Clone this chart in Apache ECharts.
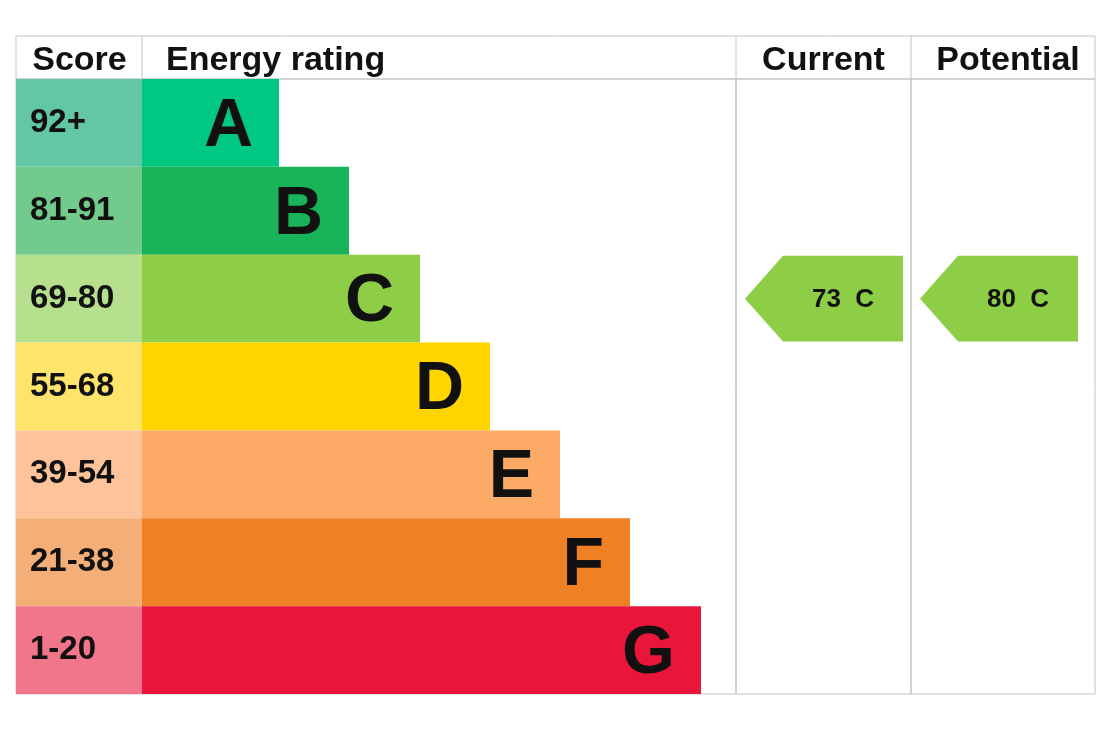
<!DOCTYPE html>
<html>
<head>
<meta charset="utf-8">
<script src="https://cdn.jsdelivr.net/npm/echarts@6/dist/echarts.min.js"></script>
<style>
html,body{margin:0;padding:0;background:#fff;}
#chart{width:1110px;height:751px;}
</style>
</head>
<body>
<div id="chart"></div>
<script>
// ---- data ----
const ratings = ['A', 'B', 'C', 'D', 'E', 'F', 'G'];
const scoreBands = ['92+', '81-91', '69-80', '55-68', '39-54', '21-38', '1-20'];
const barLengths = [137, 207, 278, 348, 418, 488, 559];
const ratingColors = ['#00c781', '#19b459', '#8dce46', '#ffd500', '#fcaa65', '#ef8023', '#e9153b'];
const bandColors = ['#64c7a3', '#72cb8c', '#b6e08d', '#fee46a', '#fdc49c', '#f4ae78', '#f2768b'];
const currentScore = 73;
const currentRating = 'C';
const potentialScore = 80;
const potentialRating = 'C';
const headers = ['Score', 'Energy rating', 'Current', 'Potential'];

const FONT = "'Liberation Sans', Arial, Helvetica, sans-serif";
const BORDER = '#c4c4c4';

const chart = echarts.init(document.getElementById('chart'), null, {renderer: 'canvas'});

const grids = [
  {left: 16, width: 126, top: 79, height: 615},
  {left: 142, width: 594, top: 79, height: 615},
  {left: 736, width: 175, top: 79, height: 615},
  {left: 911, width: 184, top: 79, height: 615}
].map(g => Object.assign(g, {show: true, borderColor: BORDER, borderWidth: 1, backgroundColor: 'transparent'}));

const xMax = [1, 594, 1, 1];
const xAxes = xMax.map((m, i) => ({type: 'value', gridIndex: i, min: 0, max: m, show: false}));
const yAxes = [0, 1, 2, 3].map(i => ({type: 'category', gridIndex: i, data: ratings, inverse: true, show: false}));

function arrowRender(params, api) {
  const cs = params.coordSys;
  const pt = api.coord([0, api.value(1)]);
  const band = api.size([0, 1])[1];
  const x0 = cs.x + 9;
  const w = 158;
  const tip = 38;
  const y0 = pt[1] - band / 2 + 1;
  const y1 = pt[1] + band / 2 - 1;
  const yc = pt[1];
  const idx = api.value(1);
  return {
    type: 'group',
    children: [
      {
        type: 'polygon',
        shape: {points: [[x0, yc], [x0 + tip, y0], [x0 + w, y0], [x0 + w, y1], [x0 + tip, y1]]},
        style: {fill: ratingColors[idx]}
      },
      {
        type: 'text',
        style: {
          text: api.value(2) + '  ' + ratings[idx],
          x: x0 + tip + (w - tip) / 2,
          y: yc + 1,
          align: 'center',
          verticalAlign: 'middle',
          font: 'bold 26px ' + FONT,
          fill: '#111'
        }
      }
    ]
  };
}

const option = {
  animation: false,
  backgroundColor: '#fff',
  grid: grids,
  xAxis: xAxes,
  yAxis: yAxes,
  graphic: [
    {type: 'rect', shape: {x: 16, y: 36, width: 1079, height: 43}, style: {fill: 'none', stroke: BORDER, lineWidth: 1}, silent: true},
    {type: 'line', shape: {x1: 142, y1: 36, x2: 142, y2: 79}, style: {stroke: BORDER, lineWidth: 1}},
    {type: 'line', shape: {x1: 736, y1: 36, x2: 736, y2: 79}, style: {stroke: BORDER, lineWidth: 1}},
    {type: 'line', shape: {x1: 911, y1: 36, x2: 911, y2: 79}, style: {stroke: BORDER, lineWidth: 1}},
    {type: 'text', style: {text: headers[0], x: 79.5, y: 61, align: 'center', verticalAlign: 'middle', font: 'bold 34px ' + FONT, fill: '#111'}},
    {type: 'text', style: {text: headers[1], x: 166, y: 61, align: 'left', verticalAlign: 'middle', font: 'bold 34px ' + FONT, fill: '#111'}},
    {type: 'text', style: {text: headers[2], x: 823.5, y: 61, align: 'center', verticalAlign: 'middle', font: 'bold 34px ' + FONT, fill: '#111'}},
    {type: 'text', style: {text: headers[3], x: 1008, y: 61, align: 'center', verticalAlign: 'middle', font: 'bold 34px ' + FONT, fill: '#111'}}
  ],
  series: [
    {
      type: 'bar',
      xAxisIndex: 0, yAxisIndex: 0,
      barCategoryGap: '0%',
      data: scoreBands.map((s, i) => ({value: 1, name: s, itemStyle: {color: bandColors[i]}})),
      label: {
        show: true, position: 'insideLeft', distance: 14,
        formatter: p => scoreBands[p.dataIndex],
        fontFamily: FONT, fontWeight: 'bold', fontSize: 33, color: '#111'
      }
    },
    {
      type: 'bar',
      xAxisIndex: 1, yAxisIndex: 1,
      barCategoryGap: '0%',
      data: barLengths.map((v, i) => ({value: v, itemStyle: {color: ratingColors[i]}})),
      label: {
        show: true, position: 'insideRight', distance: 26, offset: [0, 4],
        formatter: p => ratings[p.dataIndex],
        fontFamily: FONT, fontWeight: 'bold', fontSize: 68, color: '#111'
      }
    },
    {
      type: 'custom',
      xAxisIndex: 2, yAxisIndex: 2,
      renderItem: arrowRender,
      data: [[0, ratings.indexOf(currentRating), currentScore]]
    },
    {
      type: 'custom',
      xAxisIndex: 3, yAxisIndex: 3,
      renderItem: arrowRender,
      data: [[0, ratings.indexOf(potentialRating), potentialScore]]
    }
  ]
};
chart.setOption(option);
</script>
</body>
</html>
